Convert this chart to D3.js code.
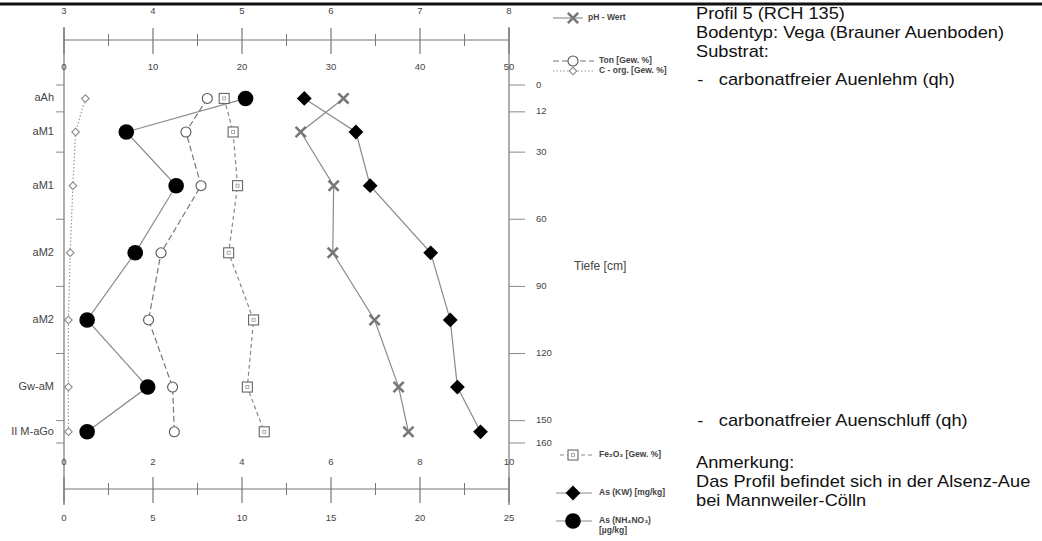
<!DOCTYPE html>
<html lang="de">
<head>
<meta charset="UTF-8">
<title>Profil 5 (RCH 135)</title>
<script src="https://d3js.org/d3.v7.min.js"></script>
<style>
  html, body { margin: 0; padding: 0; background: #fff; }
  svg { display: block; font-family: 'Liberation Sans', Arial, sans-serif; }
  .tick-label { font-size: 9.5px; fill: #444; }
  .hz-label { font-size: 11px; fill: #444; }
  .legend { font-size: 8.5px; fill: #444; font-weight: bold; }
  .info { font-size: 16px; fill: #111; }
</style>
</head>
<body>
<div id="chart"></div>
<script>
  // horizons and depth (cm)
  var horizons = ["aAh", "aM1", "aM1", "aM2", "aM2", "Gw-aM", "II M-aGo"];
  var depthBounds = [0, 12, 30, 60, 90, 120, 150, 160];
  var midDepth = [6, 21, 45, 75, 105, 135, 155];

  // measured values per horizon
  var phWert = [6.14, 5.66, 6.03, 6.02, 6.49, 6.76, 6.87];
  var ton = [16.1, 13.7, 15.4, 10.9, 9.5, 12.2, 12.4];
  var corg = [2.4, 1.3, 1.0, 0.7, 0.5, 0.5, 0.5];
  var fe2o3 = [3.6, 3.8, 3.9, 3.7, 4.26, 4.12, 4.5];
  var asKW = [13.5, 16.4, 17.2, 20.6, 21.7, 22.1, 23.4];
  var asNH = [10.2, 3.5, 6.3, 4.0, 1.3, 4.7, 1.3];

  // axis tick labels
  var phTicks = [3, 4, 5, 6, 7, 8];
  var tonTicks = [0, 10, 20, 30, 40, 50];
  var feTicks = [0, 2, 4, 6, 8, 10];
  var asTicks = [0, 5, 10, 15, 20, 25];

  var width = 1042, height = 541;
  var x0 = 64, x1 = 509;

  var svg = d3.select("#chart").append("svg")
    .attr("width", width).attr("height", height);

  var y = d3.scaleLinear().domain([0, 160]).range([85, 443]);
  var xPh = d3.scaleLinear().domain([3, 8]).range([x0, x1]);
  var xTon = d3.scaleLinear().domain([0, 50]).range([x0, x1]);
  var xFe = d3.scaleLinear().domain([0, 10]).range([x0, x1]);
  var xAs = d3.scaleLinear().domain([0, 25]).range([x0, x1]);

  var lineCol = "#8a8a8a";

  // thick top rule
  svg.append("line").attr("x1", 0).attr("x2", width).attr("y1", 4).attr("y2", 4)
    .attr("stroke", "#111").attr("stroke-width", 3);

  // frame verticals
  [x0, x1].forEach(function(xx) {
    svg.append("line").attr("x1", xx).attr("x2", xx).attr("y1", 27).attr("y2", 505)
      .attr("stroke", "#777").attr("stroke-width", 1.2);
  });

  // crossing-tick axis helper
  function crossAxis(scale, ticks, yLine) {
    var g = svg.append("g");
    g.append("line").attr("x1", x0).attr("x2", x1).attr("y1", yLine).attr("y2", yLine)
      .attr("stroke", "#777").attr("stroke-width", 1);
    ticks.forEach(function(t, i) {
      g.append("line").attr("x1", scale(t)).attr("x2", scale(t))
        .attr("y1", yLine - 12).attr("y2", yLine + 14)
        .attr("stroke", "#777").attr("stroke-width", 1.2);
      if (i < ticks.length - 1) {
        var m = (t + ticks[i + 1]) / 2;
        g.append("line").attr("x1", scale(m)).attr("x2", scale(m))
          .attr("y1", yLine - 6).attr("y2", yLine + 6)
          .attr("stroke", "#777").attr("stroke-width", 1);
      }
    });
    return g;
  }
  function tickLabels(scale, ticks, yy) {
    svg.append("g").selectAll("text").data(ticks).enter().append("text")
      .attr("class", "tick-label")
      .attr("x", function(d) { return scale(d); })
      .attr("y", yy)
      .attr("text-anchor", "middle")
      .attr("dominant-baseline", "middle")
      .text(function(d) { return d; });
  }

  crossAxis(xPh, phTicks, 40);
  tickLabels(xPh, phTicks, 11);
  tickLabels(xTon, tonTicks, 67);

  crossAxis(xFe, feTicks, 489);
  tickLabels(xFe, feTicks, 462);
  tickLabels(xAs, asTicks, 518);

  // depth ticks left and right
  depthBounds.forEach(function(d) {
    svg.append("line").attr("x1", 56).attr("x2", x0).attr("y1", y(d)).attr("y2", y(d))
      .attr("stroke", "#888").attr("stroke-width", 1);
    svg.append("line").attr("x1", x1).attr("x2", x1 + 16).attr("y1", y(d)).attr("y2", y(d))
      .attr("stroke", "#888").attr("stroke-width", 1);
  });
  svg.append("g").selectAll("text").data(depthBounds).enter().append("text")
    .attr("class", "tick-label")
    .attr("x", x1 + 27).attr("y", function(d) { return y(d); })
    .attr("dominant-baseline", "middle")
    .text(function(d) { return d; });

  svg.append("text").attr("class", "tick-label").style("font-size", "12px")
    .attr("x", 574).attr("y", 267).attr("dominant-baseline", "middle")
    .text("Tiefe [cm]");

  // horizon labels
  svg.append("g").selectAll("text").data(horizons).enter().append("text")
    .attr("class", "hz-label")
    .attr("x", 54).attr("y", function(d, i) { return y(midDepth[i]); })
    .attr("text-anchor", "end").attr("dominant-baseline", "middle")
    .text(function(d) { return d; });

  // series
  var series = [
    { vals: corg, sc: xTon, dash: "1.5,2", col: "#999", mark: "odiamond" },
    { vals: ton, sc: xTon, dash: "6,3", col: "#777", mark: "ocircle" },
    { vals: fe2o3, sc: xFe, dash: "4,3", col: "#888", mark: "square" },
    { vals: phWert, sc: xPh, dash: null, col: lineCol, mark: "cross" },
    { vals: asKW, sc: xAs, dash: null, col: lineCol, mark: "fdiamond" },
    { vals: asNH, sc: xAs, dash: null, col: lineCol, mark: "fcircle" }
  ];

  function drawMarker(g, type, cx, cy) {
    if (type === "fcircle") {
      g.append("circle").attr("cx", cx).attr("cy", cy).attr("r", 7.8).attr("fill", "#000");
    } else if (type === "ocircle") {
      g.append("circle").attr("cx", cx).attr("cy", cy).attr("r", 5)
        .attr("fill", "#fff").attr("stroke", "#555").attr("stroke-width", 1.1);
    } else if (type === "fdiamond") {
      g.append("path").attr("d", d3.symbol().type(d3.symbolSquare).size(110)())
        .attr("transform", "translate(" + cx + "," + cy + ") rotate(45)").attr("fill", "#000");
    } else if (type === "odiamond") {
      g.append("path").attr("d", d3.symbol().type(d3.symbolSquare).size(28)())
        .attr("transform", "translate(" + cx + "," + cy + ") rotate(45)")
        .attr("fill", "#fff").attr("stroke", "#888").attr("stroke-width", 1.1);
    } else if (type === "square") {
      g.append("rect").attr("x", cx - 5).attr("y", cy - 5).attr("width", 10).attr("height", 10)
        .attr("fill", "#fff").attr("stroke", "#666").attr("stroke-width", 1.1);
      g.append("rect").attr("x", cx - 1.5).attr("y", cy - 1.5).attr("width", 3).attr("height", 3)
        .attr("fill", "none").attr("stroke", "#999").attr("stroke-width", 0.8);
    } else if (type === "cross") {
      g.append("path").attr("d", d3.symbol().type(d3.symbolX).size(70)())
        .attr("transform", "translate(" + cx + "," + cy + ")")
        .attr("fill", "none").attr("stroke", "#777").attr("stroke-width", 2.6);
    }
  }

  var lineGen = function(sc) {
    return d3.line().x(function(d) { return sc(d); })
      .y(function(d, i) { return y(midDepth[i]); });
  };

  var linesG = svg.append("g");
  series.forEach(function(s) {
    linesG.append("path").datum(s.vals).attr("d", lineGen(s.sc))
      .attr("fill", "none").attr("stroke", s.col).attr("stroke-width", 1.2)
      .attr("stroke-dasharray", s.dash);
  });
  var marksG = svg.append("g");
  series.forEach(function(s) {
    s.vals.forEach(function(v, i) { drawMarker(marksG, s.mark, s.sc(v), y(midDepth[i])); });
  });

  // legend
  var legendItems = [
    { y: 18, mark: "cross", dash: null, col: lineCol, l1: 553, l2: 583, tx: 588, label: ["pH - Wert"] },
    { y: 61, mark: "ocircle", dash: "6,3", col: "#777", l1: 553, l2: 594, tx: 599, label: ["Ton [Gew. %]"] },
    { y: 71, mark: "odiamond", dash: "1.5,2", col: "#999", l1: 553, l2: 594, tx: 599, label: ["C - org. [Gew. %]"] },
    { y: 455, mark: "square", dash: "4,3", col: "#888", l1: 560, l2: 593, tx: 599, label: ["Fe\u2082O\u2083 [Gew. %]"] },
    { y: 493, mark: "fdiamond", dash: null, col: lineCol, l1: 556, l2: 592, tx: 599, label: ["As (KW) [mg/kg]"] },
    { y: 521, mark: "fcircle", dash: null, col: lineCol, l1: 556, l2: 592, tx: 599, label: ["As (NH\u2084NO\u2083)", "[\u00b5g/kg]"] }
  ];
  var lg = svg.append("g");
  legendItems.forEach(function(it) {
    lg.append("line").attr("x1", it.l1).attr("x2", it.l2).attr("y1", it.y).attr("y2", it.y)
      .attr("stroke", it.col).attr("stroke-width", 1.1).attr("stroke-dasharray", it.dash);
    drawMarker(lg, it.mark, 573, it.y);
    it.label.forEach(function(t, j) {
      lg.append("text").attr("class", "legend").attr("x", it.tx).attr("y", it.y + j * 10)
        .attr("dominant-baseline", "middle").text(t);
    });
  });

  // profile description (wide face, stretched horizontally like the source)
  var infoTop = ["Profil 5 (RCH 135)", "Bodentyp: Vega (Brauner Auenboden)", "Substrat:"];
  var infoTopY = [15, 34, 53];
  var substrat = ["carbonatfreier Auenlehm (qh)", "carbonatfreier Auenschluff (qh)"];
  var substratY = [81, 422];
  var note = ["Anmerkung:", "Das Profil befindet sich in der Alsenz-Aue", "bei Mannweiler-C\u00f6lln"];
  var noteY = [464, 483, 502];

  var info = svg.append("g").attr("transform", "translate(696,0) scale(1.14,1)");
  infoTop.forEach(function(t, i) {
    info.append("text").attr("class", "info").attr("x", 0).attr("y", infoTopY[i])
      .attr("dominant-baseline", "middle").text(t);
  });
  substrat.forEach(function(t, i) {
    info.append("text").attr("class", "info").attr("x", 1).attr("y", substratY[i])
      .attr("dominant-baseline", "middle").text("-");
    info.append("text").attr("class", "info").attr("x", 20).attr("y", substratY[i])
      .attr("dominant-baseline", "middle").text(t);
  });
  note.forEach(function(t, i) {
    info.append("text").attr("class", "info").attr("x", 0).attr("y", noteY[i])
      .attr("dominant-baseline", "middle").text(t);
  });
</script>
</body>
</html>
